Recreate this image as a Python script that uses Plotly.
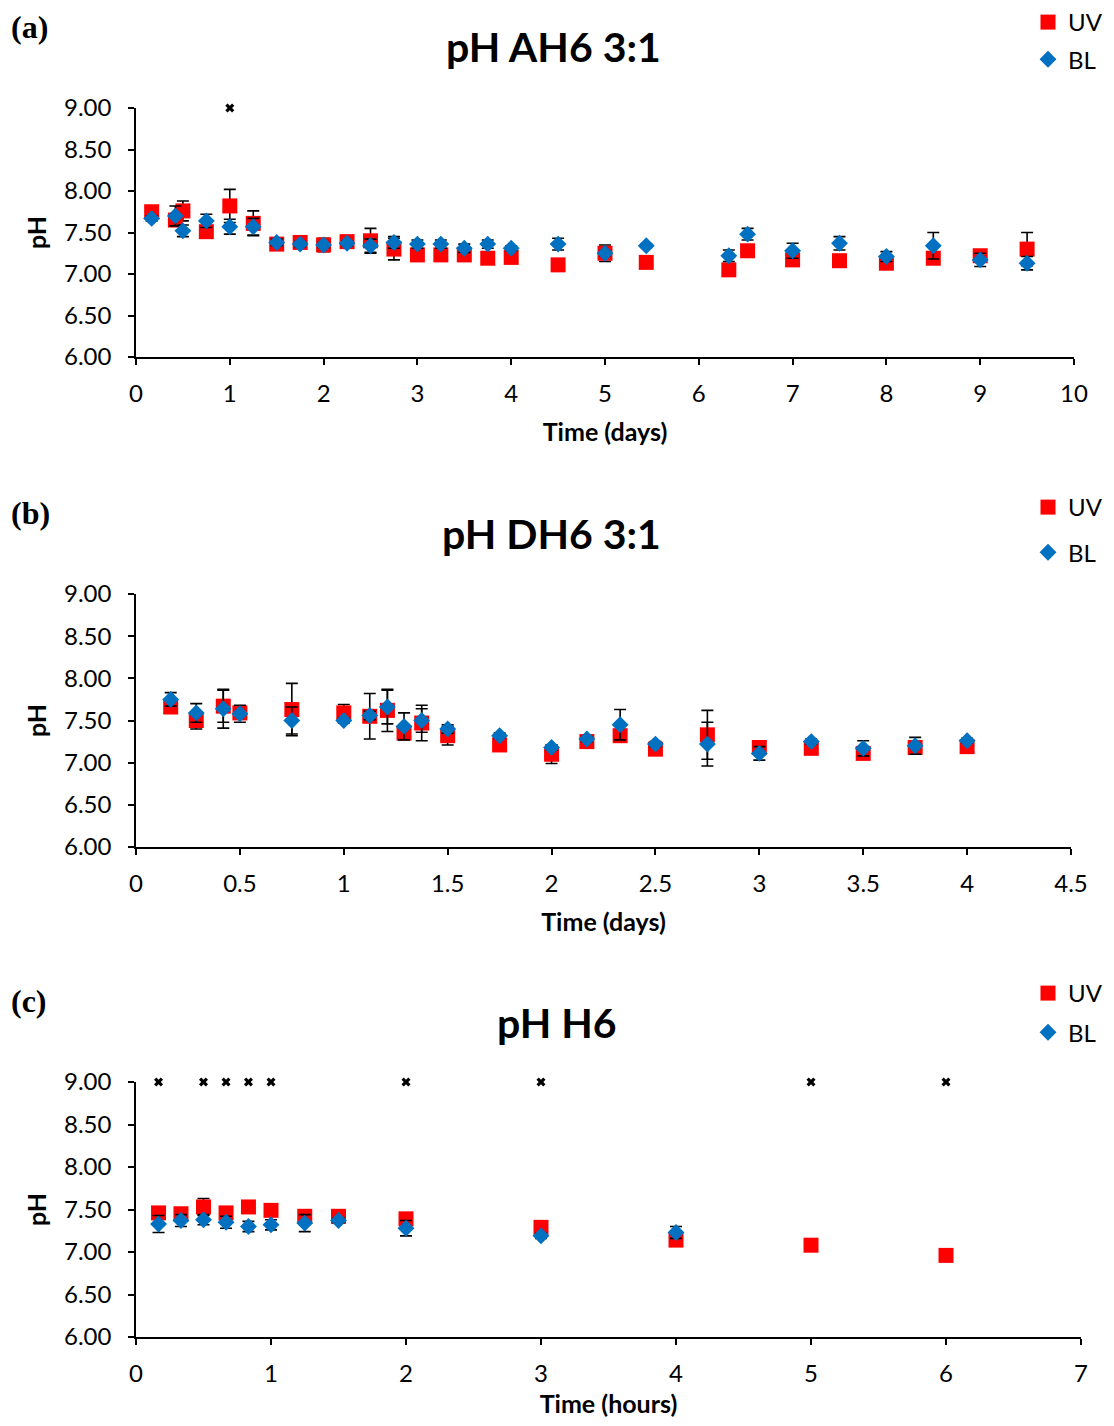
import plotly.graph_objects as go

# ---------------- data ----------------
# Panel (a): pH AH6 3:1 (time in days)
a_uv_t = [0.167, 0.42, 0.5, 0.75, 1.0, 1.25, 1.5, 1.75, 2.0, 2.25, 2.5, 2.75, 3.0, 3.25, 3.5, 3.75, 4.0,
          4.5, 5.0, 5.44, 6.32, 6.52, 7.0, 7.5, 8.0, 8.5, 9.0, 9.5]
a_uv_ph = [7.75, 7.65, 7.76, 7.51, 7.82, 7.61, 7.36, 7.38, 7.35, 7.39, 7.40, 7.30, 7.23, 7.23, 7.23, 7.19, 7.20,
           7.11, 7.25, 7.14, 7.05, 7.28, 7.17, 7.16, 7.13, 7.19, 7.22, 7.30]
a_uv_err = [0.03, 0.05, 0.12, 0.04, 0.20, 0.15, 0.05, 0.03, 0.08, 0.03, 0.15, 0.13, 0.03, 0.03, 0.03, 0.03, 0.03,
            0.02, 0.10, 0.02, 0.02, 0.03, 0.03, 0.03, 0.03, 0.03, 0.05, 0.20]
a_bl_t = a_uv_t
a_bl_ph = [7.67, 7.70, 7.52, 7.64, 7.57, 7.57, 7.38, 7.36, 7.35, 7.37, 7.34, 7.38, 7.36, 7.36, 7.31, 7.36, 7.31,
           7.36, 7.25, 7.34, 7.22, 7.48, 7.28, 7.37, 7.21, 7.34, 7.17, 7.13]
a_bl_err = [0.03, 0.12, 0.07, 0.08, 0.09, 0.10, 0.04, 0.03, 0.03, 0.03, 0.08, 0.07, 0.05, 0.05, 0.05, 0.05, 0.03,
            0.07, 0.03, 0.02, 0.07, 0.07, 0.09, 0.08, 0.06, 0.16, 0.08, 0.08]
a_mark_t = [1.0]
a_mark_y = [9.0]

# Panel (b): pH DH6 3:1 (time in days)
b_t = [0.167, 0.29, 0.42, 0.5, 0.75, 1.0, 1.125, 1.21, 1.29, 1.375, 1.5, 1.75, 2.0, 2.17, 2.33, 2.5, 2.75,
       3.0, 3.25, 3.5, 3.75, 4.0]
b_uv_ph = [7.66, 7.50, 7.67, 7.59, 7.63, 7.59, 7.55, 7.62, 7.35, 7.47, 7.32, 7.21, 7.10, 7.25, 7.32, 7.16, 7.33,
           7.18, 7.17, 7.11, 7.18, 7.19]
b_uv_err = [0.03, 0.10, 0.19, 0.03, 0.31, 0.10, 0.27, 0.25, 0.05, 0.21, 0.11, 0.03, 0.11, 0.03, 0.03, 0.03, 0.29,
            0.03, 0.03, 0.03, 0.03, 0.03]
b_bl_ph = [7.75, 7.59, 7.64, 7.58, 7.50, 7.50, 7.56, 7.66, 7.43, 7.50, 7.40, 7.32, 7.18, 7.28, 7.45, 7.22, 7.22,
           7.11, 7.25, 7.17, 7.20, 7.26]
b_bl_err = [0.08, 0.11, 0.23, 0.10, 0.16, 0.03, 0.05, 0.20, 0.16, 0.14, 0.05, 0.03, 0.03, 0.03, 0.18, 0.03, 0.26,
            0.08, 0.03, 0.09, 0.10, 0.03]

# Panel (c): pH H6 (time in hours)
c_uv_t = [0.167, 0.333, 0.5, 0.667, 0.833, 1.0, 1.25, 1.5, 2.0, 3.0, 4.0, 5.0, 6.0]
c_uv_ph = [7.46, 7.45, 7.53, 7.46, 7.53, 7.49, 7.42, 7.42, 7.39, 7.29, 7.14, 7.08, 6.96]
c_uv_err = [0.03, 0.03, 0.10, 0.03, 0.03, 0.03, 0.03, 0.03, 0.03, 0.03, 0.03, 0.02, 0.02]
c_bl_t = [0.167, 0.333, 0.5, 0.667, 0.833, 1.0, 1.25, 1.5, 2.0, 3.0, 4.0]
c_bl_ph = [7.33, 7.37, 7.38, 7.35, 7.30, 7.32, 7.34, 7.37, 7.28, 7.19, 7.23]
c_bl_err = [0.10, 0.07, 0.06, 0.07, 0.06, 0.06, 0.10, 0.03, 0.09, 0.03, 0.07]
c_mark_t = [0.167, 0.5, 0.667, 0.833, 1.0, 2.0, 3.0, 5.0, 6.0]
c_mark_y = [9.0] * len(c_mark_t)

titles = ["pH AH6 3:1", "pH DH6 3:1", "pH H6"]
xtitles = ["Time (days)", "Time (days)", "Time (hours)"]
panel_labels = ["(a)", "(b)", "(c)"]
x_ranges = [(0, 10, 1), (0, 4.5, 0.5), (0, 7, 1)]

# ---------------- layout constants (page pixels) ----------------
PAGE_W, PAGE_H = 1114, 1426
BODY = 8  # default page margin around the figure
W, H = PAGE_W - 2 * BODY, PAGE_H - 2 * BODY
# plot areas in page pixels: (left, right, top, bottom)
areas = [(136, 1074, 108, 357), (136, 1071, 594, 847), (136, 1081, 1082, 1337)]
title_y = [47, 533, 1022]
label_y = [27, 513, 1001]
legend_top = [-8, 477, 963]
legend_gap = [3, 11, 5]

UV_COLOR = "#FF0000"
BL_COLOR = "#0070C0"
FONT = "Lato"
TICK_SIZE = 24
LABEL_SIZE = 25

def px_x(p):
    return (p - BODY) / W

def px_y(p):
    return 1 - (p - BODY) / H

fig = go.Figure()

panels = [
    (a_uv_t, a_uv_ph, a_uv_err, a_bl_t, a_bl_ph, a_bl_err, a_mark_t, a_mark_y),
    (b_t, b_uv_ph, b_uv_err, b_t, b_bl_ph, b_bl_err, [], []),
    (c_uv_t, c_uv_ph, c_uv_err, c_bl_t, c_bl_ph, c_bl_err, c_mark_t, c_mark_y),
]

layout = dict(
    width=W, height=H,
    margin=dict(l=0, r=0, t=0, b=0, autoexpand=False),
    paper_bgcolor="white", plot_bgcolor="white",
    font=dict(family=FONT, size=TICK_SIZE, color="black"),
    annotations=[],
)

for i, (uvt, uvy, uve, blt, bly, ble, mt, my) in enumerate(panels):
    n = "" if i == 0 else str(i + 1)
    xa, ya = "x" + n, "y" + n
    leg = "legend" + n
    err_style = dict(type="data", color="black", thickness=1.6, width=6)
    fig.add_trace(go.Scatter(
        x=uvt, y=uvy, mode="markers", name="UV", xaxis=xa, yaxis=ya,
        marker=dict(symbol="square", size=15, color=UV_COLOR),
        error_y=dict(array=uve, **err_style),
        legend=leg, legendgroup="uv" + n, cliponaxis=False,
    ))
    fig.add_trace(go.Scatter(
        x=blt, y=bly, mode="markers", name="BL", xaxis=xa, yaxis=ya,
        marker=dict(symbol="diamond", size=13, color=BL_COLOR),
        error_y=dict(array=ble, **err_style),
        legend=leg, legendgroup="bl" + n, cliponaxis=False,
    ))
    if mt:
        fig.add_trace(go.Scatter(
            x=mt, y=my, mode="markers", name="x", xaxis=xa, yaxis=ya,
            marker=dict(symbol="x", size=8, color="black"),
            showlegend=False, cliponaxis=False,
        ))

    l, r, t, b = areas[i]
    x0, x1, dt = x_ranges[i]
    layout["xaxis" + n] = dict(
        domain=[px_x(l), px_x(r)], range=[x0, x1], anchor=ya, automargin=False,
        tick0=0, dtick=dt, ticks="outside", ticklen=6, tickwidth=1.5, tickcolor="black",
        showline=True, linecolor="black", linewidth=1.5, showgrid=False, zeroline=False,
        tickfont=dict(family=FONT, size=TICK_SIZE), ticklabelstandoff=8,
        title=dict(text="<b>" + xtitles[i] + "</b>", font=dict(family=FONT, size=LABEL_SIZE), standoff=18),
        fixedrange=True,
    )
    layout["yaxis" + n] = dict(
        domain=[px_y(b), px_y(t)], range=[6, 9], anchor=xa, automargin=False,
        tick0=6, dtick=0.5, tickformat=".2f", ticks="outside", ticklen=6, tickwidth=1.5, tickcolor="black",
        showline=True, linecolor="black", linewidth=1.5, showgrid=False, zeroline=False,
        tickfont=dict(family=FONT, size=TICK_SIZE), ticklabelstandoff=12,
        title=dict(text="<b>pH</b>", font=dict(family=FONT, size=LABEL_SIZE), standoff=10),
        fixedrange=True,
    )
    layout[leg] = dict(
        x=px_x(1028), y=px_y(legend_top[i] + BODY), xanchor="left", yanchor="top",
        xref="paper", yref="paper",
        font=dict(family=FONT, size=24), bgcolor="rgba(0,0,0,0)",
        tracegroupgap=legend_gap[i], itemwidth=30, orientation="v",
    )
    layout["annotations"].append(dict(
        text="<b>" + titles[i] + "</b>", x=px_x((l + r) / 2 - 52), y=px_y(title_y[i]),
        xref="paper", yref="paper", xanchor="center", yanchor="middle", showarrow=False,
        font=dict(family=FONT, size=41, color="black"),
    ))
    layout["annotations"].append(dict(
        text="<b>" + panel_labels[i] + "</b>", x=px_x(9), y=px_y(label_y[i]),
        xref="paper", yref="paper", xanchor="left", yanchor="middle", showarrow=False,
        font=dict(family="Liberation Serif", size=32, color="black"),
    ))

fig.update_layout(**layout)
fig.write_html("out.html")
